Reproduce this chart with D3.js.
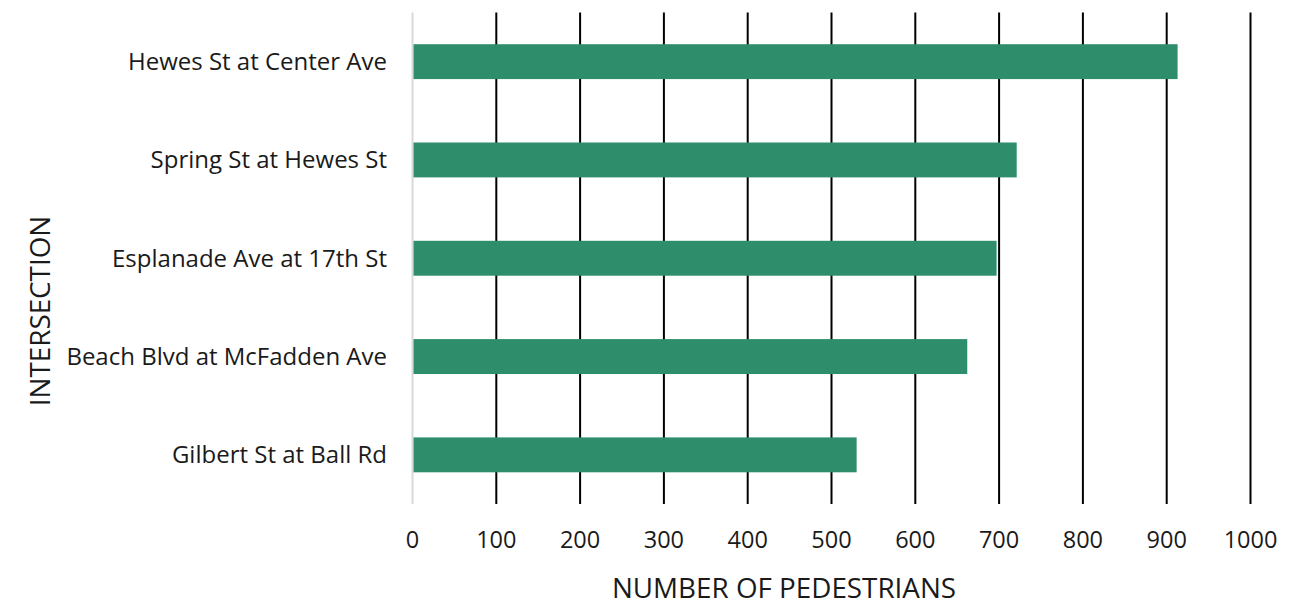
<!DOCTYPE html>
<html><head><meta charset="utf-8">
<script src="https://cdn.jsdelivr.net/npm/d3@7"></script>
<style>body{margin:0;background:#fff;} text{font-family:"Open Sans",sans-serif;fill:#1a1a1a;}</style>
</head><body><svg id="c" width="1307" height="601"></svg>
<script>
const categories = ["Hewes St at Center Ave","Spring St at Hewes St","Esplanade Ave at 17th St","Beach Blvd at McFadden Ave","Gilbert St at Ball Rd"];
const values = [913, 721, 697, 662, 530];
const tickValues = [0,100,200,300,400,500,600,700,800,900,1000];

const svg = d3.select("#c");
const x = d3.scaleLinear().domain([0,1000]).range([412.5,1250.5]);
const y = d3.scaleBand().domain(categories).range([12.5,504]).paddingInner(0.645).paddingOuter(0.3225);

// gridlines
svg.append("g").selectAll("line").data(tickValues.slice(1)).join("line")
  .attr("x1",d=>x(d)).attr("x2",d=>x(d)).attr("y1",12.5).attr("y2",504)
  .attr("stroke","#000").attr("stroke-width",2);
// zero line
svg.append("line").attr("x1",x(0)).attr("x2",x(0)).attr("y1",12.5).attr("y2",504)
  .attr("stroke","#d9d9d9").attr("stroke-width",2);

// bars
svg.append("g").selectAll("rect").data(values).join("rect")
  .attr("x",x(0)+1).attr("y",(d,i)=>y(categories[i]))
  .attr("width",d=>x(d)-x(0)-1).attr("height",y.bandwidth())
  .attr("fill","#2e8e6b");

// x tick labels
svg.append("g").selectAll("text").data(tickValues).join("text")
  .attr("x",d=>x(d)).attr("y",540).attr("dy","0.35em").attr("text-anchor","middle")
  .attr("font-size",23.5).text(d=>d);

// y labels
svg.append("g").selectAll("text").data(categories).join("text")
  .attr("x",387).attr("y",d=>y(d)+y.bandwidth()/2).attr("dy","0.35em").attr("text-anchor","end")
  .attr("font-size",24).text(d=>d);

svg.append("text").attr("x",784).attr("y",588).attr("dy","0.35em").attr("text-anchor","middle")
  .attr("font-size",27.8).text("NUMBER OF PEDESTRIANS");
svg.append("text").attr("transform","translate(40,311) rotate(-90)").attr("dy","0.35em").attr("text-anchor","middle")
  .attr("font-size",27.8).text("INTERSECTION");
</script></body></html>
